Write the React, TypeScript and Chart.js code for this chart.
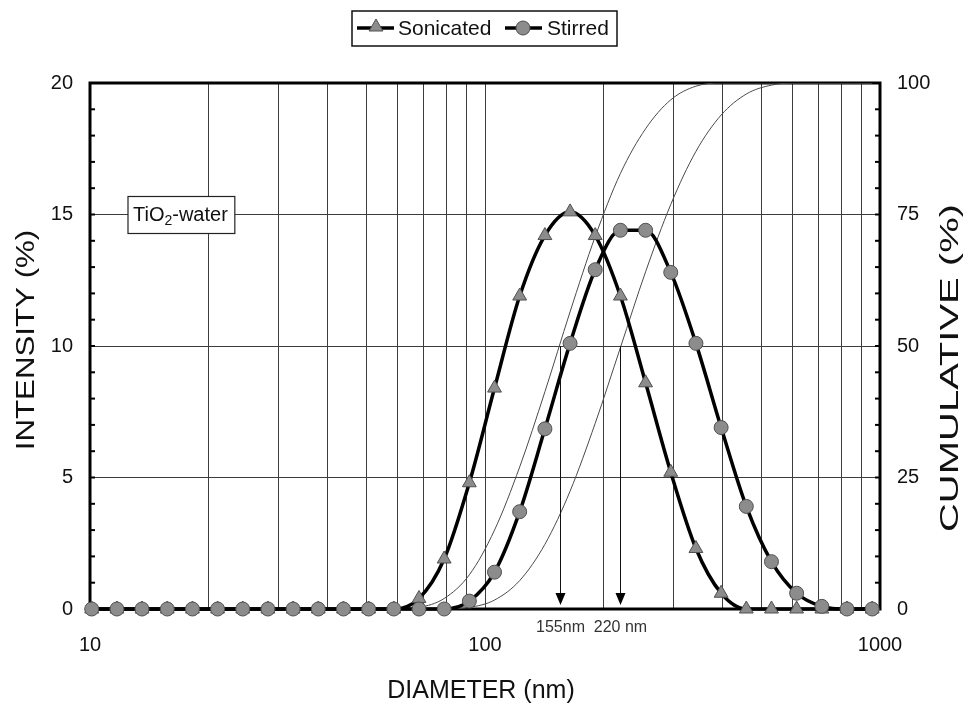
import React, { useEffect, useRef } from 'react';
import { Chart, registerables } from 'chart.js';

Chart.register(...registerables);

// Size bins (nm)
const diameters = [10.1, 11.7, 13.54, 15.69, 18.17, 21.04, 24.36, 28.21, 32.67, 37.84, 43.82, 50.75, 58.77, 68.06, 78.82, 91.28, 105.7, 122.4, 141.8, 164.2, 190.1, 220.2, 255.0, 295.3, 342.0, 396.1, 458.7, 531.2, 615.1, 712.4, 825.0, 955.4];
// Intensity (%)
const sonicated = [0, 0, 0, 0, 0, 0, 0, 0, 0, 0, 0, 0, 0, 0.4, 1.9, 4.8, 8.4, 11.9, 14.2, 15.1, 14.2, 11.9, 8.6, 5.2, 2.3, 0.6, 0, 0, 0, 0, 0, 0];
const stirred = [0, 0, 0, 0, 0, 0, 0, 0, 0, 0, 0, 0, 0, 0, 0, 0.3, 1.4, 3.7, 6.85, 10.1, 12.9, 14.4, 14.4, 12.8, 10.1, 6.9, 3.9, 1.8, 0.6, 0.1, 0, 0];
// Cumulative (%)
const sonicatedCumulative = [0, 0, 0, 0, 0, 0, 0, 0, 0, 0, 0, 0, 0, 0.3, 2.0, 6.5, 15.0, 27.0, 41.3, 56.5, 70.8, 82.8, 91.3, 96.8, 99.4, 100, 100, 100, 100, 100, 100, 100];
const stirredCumulative = [0, 0, 0, 0, 0, 0, 0, 0, 0, 0, 0, 0, 0, 0, 0, 0.3, 1.7, 5.4, 12.3, 22.4, 35.3, 49.7, 64.1, 76.9, 87.0, 93.9, 97.9, 99.6, 100, 100, 100, 100];

const xGridValues = [10, 20, 30, 40, 50, 60, 70, 80, 90, 100, 200, 300, 400, 500, 600, 700, 800, 900, 1000];
const xLabelValues = [10, 100, 1000];
const intensityTicks = [0, 5, 10, 15, 20];
const intensityMinor = [0, 1, 2, 3, 4, 5, 6, 7, 8, 9, 10, 11, 12, 13, 14, 15, 16, 17, 18, 19, 20];
const cumulativeTicks = [0, 25, 50, 75, 100];
const cumulativeMinor = [0, 5, 10, 15, 20, 25, 30, 35, 40, 45, 50, 55, 60, 65, 70, 75, 80, 85, 90, 95, 100];
const medianValues = [155, 220];
const medianLabels = ['155nm', '220 nm'];
const seriesNames = ['Sonicated', 'Stirred'];

const FONT = '"Liberation Sans", Arial, Helvetica, sans-serif';
const MARKER_FILL = '#8c8c8c';
const MARKER_EDGE = '#505050';

function drawTriangle(ctx: CanvasRenderingContext2D, x: number, y: number, r: number) {
  ctx.beginPath();
  ctx.moveTo(x, y - r);
  ctx.lineTo(x + r * 0.866, y + r * 0.5);
  ctx.lineTo(x - r * 0.866, y + r * 0.5);
  ctx.closePath();
  ctx.fillStyle = MARKER_FILL;
  ctx.fill();
  ctx.lineWidth = 1;
  ctx.strokeStyle = MARKER_EDGE;
  ctx.stroke();
}

function drawCircle(ctx: CanvasRenderingContext2D, x: number, y: number, r: number) {
  ctx.beginPath();
  ctx.arc(x, y, r, 0, Math.PI * 2);
  ctx.fillStyle = MARKER_FILL;
  ctx.fill();
  ctx.lineWidth = 1;
  ctx.strokeStyle = MARKER_EDGE;
  ctx.stroke();
}

function stretchedText(ctx: CanvasRenderingContext2D, text: string, x: number, y: number, rot: number, sx: number) {
  ctx.save();
  ctx.translate(x, y);
  ctx.rotate(rot);
  ctx.scale(sx, 1);
  ctx.textAlign = 'center';
  ctx.textBaseline = 'middle';
  ctx.fillText(text, 0, 0);
  ctx.restore();
}

const decorPlugin = {
  id: 'decor',
  beforeDatasetsDraw(chart: any) {
    const { ctx, chartArea: a, scales } = chart;
    ctx.save();
    ctx.strokeStyle = '#000';
    ctx.lineWidth = 2;
    intensityMinor.forEach((v) => {
      const py = scales.y.getPixelForValue(v);
      ctx.beginPath();
      ctx.moveTo(a.left, py);
      ctx.lineTo(a.left + 5, py);
      ctx.stroke();
    });
    cumulativeMinor.forEach((v) => {
      const py = scales.y2.getPixelForValue(v);
      ctx.beginPath();
      ctx.moveTo(a.right - 5, py);
      ctx.lineTo(a.right, py);
      ctx.stroke();
    });
    ctx.lineWidth = 3;
    ctx.strokeRect(a.left, a.top, a.right - a.left, a.bottom - a.top);
    ctx.restore();
  },
  afterDatasetsDraw(chart: any) {
    const { ctx, chartArea: a, scales } = chart;
    ctx.save();
    // median arrows
    medianValues.forEach((v, i) => {
      const px = Math.round(scales.x.getPixelForValue(v)) + 0.5;
      const top = scales.y.getPixelForValue(10);
      const tip = a.bottom - 4;
      ctx.strokeStyle = '#111';
      ctx.lineWidth = 1;
      ctx.beginPath();
      ctx.moveTo(px, top);
      ctx.lineTo(px, tip - 8);
      ctx.stroke();
      ctx.fillStyle = '#000';
      ctx.beginPath();
      ctx.moveTo(px, tip);
      ctx.lineTo(px - 5, tip - 12);
      ctx.lineTo(px + 5, tip - 12);
      ctx.closePath();
      ctx.fill();
      ctx.font = `16px ${FONT}`;
      ctx.fillStyle = '#333';
      ctx.textAlign = 'center';
      ctx.textBaseline = 'middle';
      ctx.fillText(medianLabels[i], px, a.bottom + 19);
    });
    // TiO2-water box
    const cy = scales.y.getPixelForValue(15);
    const bx = a.left + 38;
    ctx.font = `20px ${FONT}`;
    const w1 = ctx.measureText('TiO').width;
    ctx.font = `14px ${FONT}`;
    const w2 = ctx.measureText('2').width;
    ctx.font = `20px ${FONT}`;
    const w3 = ctx.measureText('-water').width;
    const bw = w1 + w2 + w3 + 12;
    ctx.fillStyle = '#fff';
    ctx.fillRect(bx, cy - 18, bw, 37);
    ctx.strokeStyle = '#222';
    ctx.lineWidth = 1.2;
    ctx.strokeRect(bx, cy - 18, bw, 37);
    ctx.fillStyle = '#111';
    ctx.textAlign = 'left';
    ctx.textBaseline = 'middle';
    ctx.fillText('TiO', bx + 5, cy + 1);
    ctx.font = `14px ${FONT}`;
    ctx.fillText('2', bx + 5 + w1, cy + 7);
    ctx.font = `20px ${FONT}`;
    ctx.fillText('-water', bx + 5 + w1 + w2, cy + 1);
    ctx.restore();
  },
  afterDraw(chart: any) {
    const { ctx, chartArea: a, scales } = chart;
    ctx.save();
    ctx.fillStyle = '#111';
    ctx.font = `20px ${FONT}`;
    ctx.textBaseline = 'middle';
    ctx.textAlign = 'right';
    intensityTicks.forEach((v) => ctx.fillText(String(v), a.left - 17, scales.y.getPixelForValue(v)));
    ctx.textAlign = 'left';
    cumulativeTicks.forEach((v) => ctx.fillText(String(v), a.right + 17, scales.y2.getPixelForValue(v)));
    ctx.textAlign = 'center';
    xLabelValues.forEach((v) => ctx.fillText(String(v), scales.x.getPixelForValue(v), a.bottom + 36));
    // axis titles
    ctx.font = `25px ${FONT}`;
    stretchedText(ctx, 'DIAMETER (nm)', (a.left + a.right) / 2 - 4, a.bottom + 82, 0, 1.0);
    stretchedText(ctx, 'INTENSITY (%)', 27, 340, -Math.PI / 2, 1.25);
    stretchedText(ctx, 'CUMULATIVE (%)', 951, 368, -Math.PI / 2, 1.6);

    // legend
    const cx = (a.left + a.right) / 2;
    const lx = cx - 133;
    const ly = 11;
    ctx.fillStyle = '#fff';
    ctx.fillRect(lx, ly, 265, 35);
    ctx.strokeStyle = '#111';
    ctx.lineWidth = 1.5;
    ctx.strokeRect(lx, ly, 265, 35);
    const my = ly + 17;
    ctx.strokeStyle = '#000';
    ctx.lineWidth = 3.5;
    ctx.beginPath();
    ctx.moveTo(lx + 5, my);
    ctx.lineTo(lx + 42, my);
    ctx.stroke();
    drawTriangle(ctx, lx + 24, my - 1, 8);
    ctx.beginPath();
    ctx.strokeStyle = '#000';
    ctx.lineWidth = 3.5;
    ctx.moveTo(lx + 153, my);
    ctx.lineTo(lx + 190, my);
    ctx.stroke();
    drawCircle(ctx, lx + 171, my, 7);
    ctx.fillStyle = '#111';
    ctx.font = `21px ${FONT}`;
    ctx.textAlign = 'left';
    ctx.textBaseline = 'middle';
    ctx.fillText(seriesNames[0], lx + 46, my + 1);
    ctx.fillText(seriesNames[1], lx + 195, my + 1);
    ctx.restore();
  },
};

export default function App() {
  const canvasRef = useRef<HTMLCanvasElement | null>(null);

  useEffect(() => {
    const canvas = canvasRef.current;
    if (!canvas) return;
    const pts = (ys: number[]) => diameters.map((d, i) => ({ x: d, y: ys[i] }));
    const chart = new Chart(canvas, {
      type: 'line',
      data: {
        datasets: [
          {
            label: seriesNames[0],
            data: pts(sonicated),
            yAxisID: 'y',
            borderColor: '#000',
            borderWidth: 3.5,
            pointStyle: 'triangle',
            pointRadius: 8,
            pointBackgroundColor: MARKER_FILL,
            pointBorderColor: MARKER_EDGE,
            pointBorderWidth: 1,
            cubicInterpolationMode: 'monotone',
            clip: false,
            order: 2,
          },
          {
            label: seriesNames[1],
            data: pts(stirred),
            yAxisID: 'y',
            borderColor: '#000',
            borderWidth: 3.5,
            pointStyle: 'circle',
            pointRadius: 7,
            pointBackgroundColor: MARKER_FILL,
            pointBorderColor: MARKER_EDGE,
            pointBorderWidth: 1,
            cubicInterpolationMode: 'monotone',
            clip: false,
            order: 1,
          },
          {
            label: 'Sonicated cumulative',
            data: pts(sonicatedCumulative),
            yAxisID: 'y2',
            borderColor: '#4a4a4a',
            borderWidth: 1,
            pointRadius: 0,
            cubicInterpolationMode: 'monotone',
            order: 3,
          },
          {
            label: 'Stirred cumulative',
            data: pts(stirredCumulative),
            yAxisID: 'y2',
            borderColor: '#4a4a4a',
            borderWidth: 1,
            pointRadius: 0,
            cubicInterpolationMode: 'monotone',
            order: 4,
          },
        ],
      },
      options: {
        animation: false,
        responsive: false,
        events: [],
        layout: { padding: { left: 90, right: 86, top: 83, bottom: 97 } },
        plugins: { legend: { display: false }, tooltip: { enabled: false } },
        scales: {
          x: {
            type: 'logarithmic',
            min: 10,
            max: 1000,
            afterBuildTicks: (s: any) => {
              s.ticks = xGridValues.map((v) => ({ value: v }));
            },
            ticks: { display: false },
            grid: { color: '#3c3c3c', lineWidth: 1, drawTicks: false },
            border: { display: false },
          },
          y: {
            type: 'linear',
            position: 'left',
            min: 0,
            max: 20,
            afterBuildTicks: (s: any) => {
              s.ticks = intensityTicks.map((v) => ({ value: v }));
            },
            ticks: { display: false },
            grid: { color: '#3c3c3c', lineWidth: 1, drawTicks: false },
            border: { display: false },
          },
          y2: {
            type: 'linear',
            position: 'right',
            min: 0,
            max: 100,
            ticks: { display: false },
            grid: { display: false, drawTicks: false },
            border: { display: false },
          },
        },
      },
      plugins: [decorPlugin],
    } as any);
    return () => chart.destroy();
  }, []);

  return (
    <div style={{ position: 'absolute', left: 0, top: 0, width: 966, height: 706, background: '#fff' }}>
      <canvas ref={canvasRef} width={966} height={706} style={{ display: 'block' }} />
    </div>
  );
}
